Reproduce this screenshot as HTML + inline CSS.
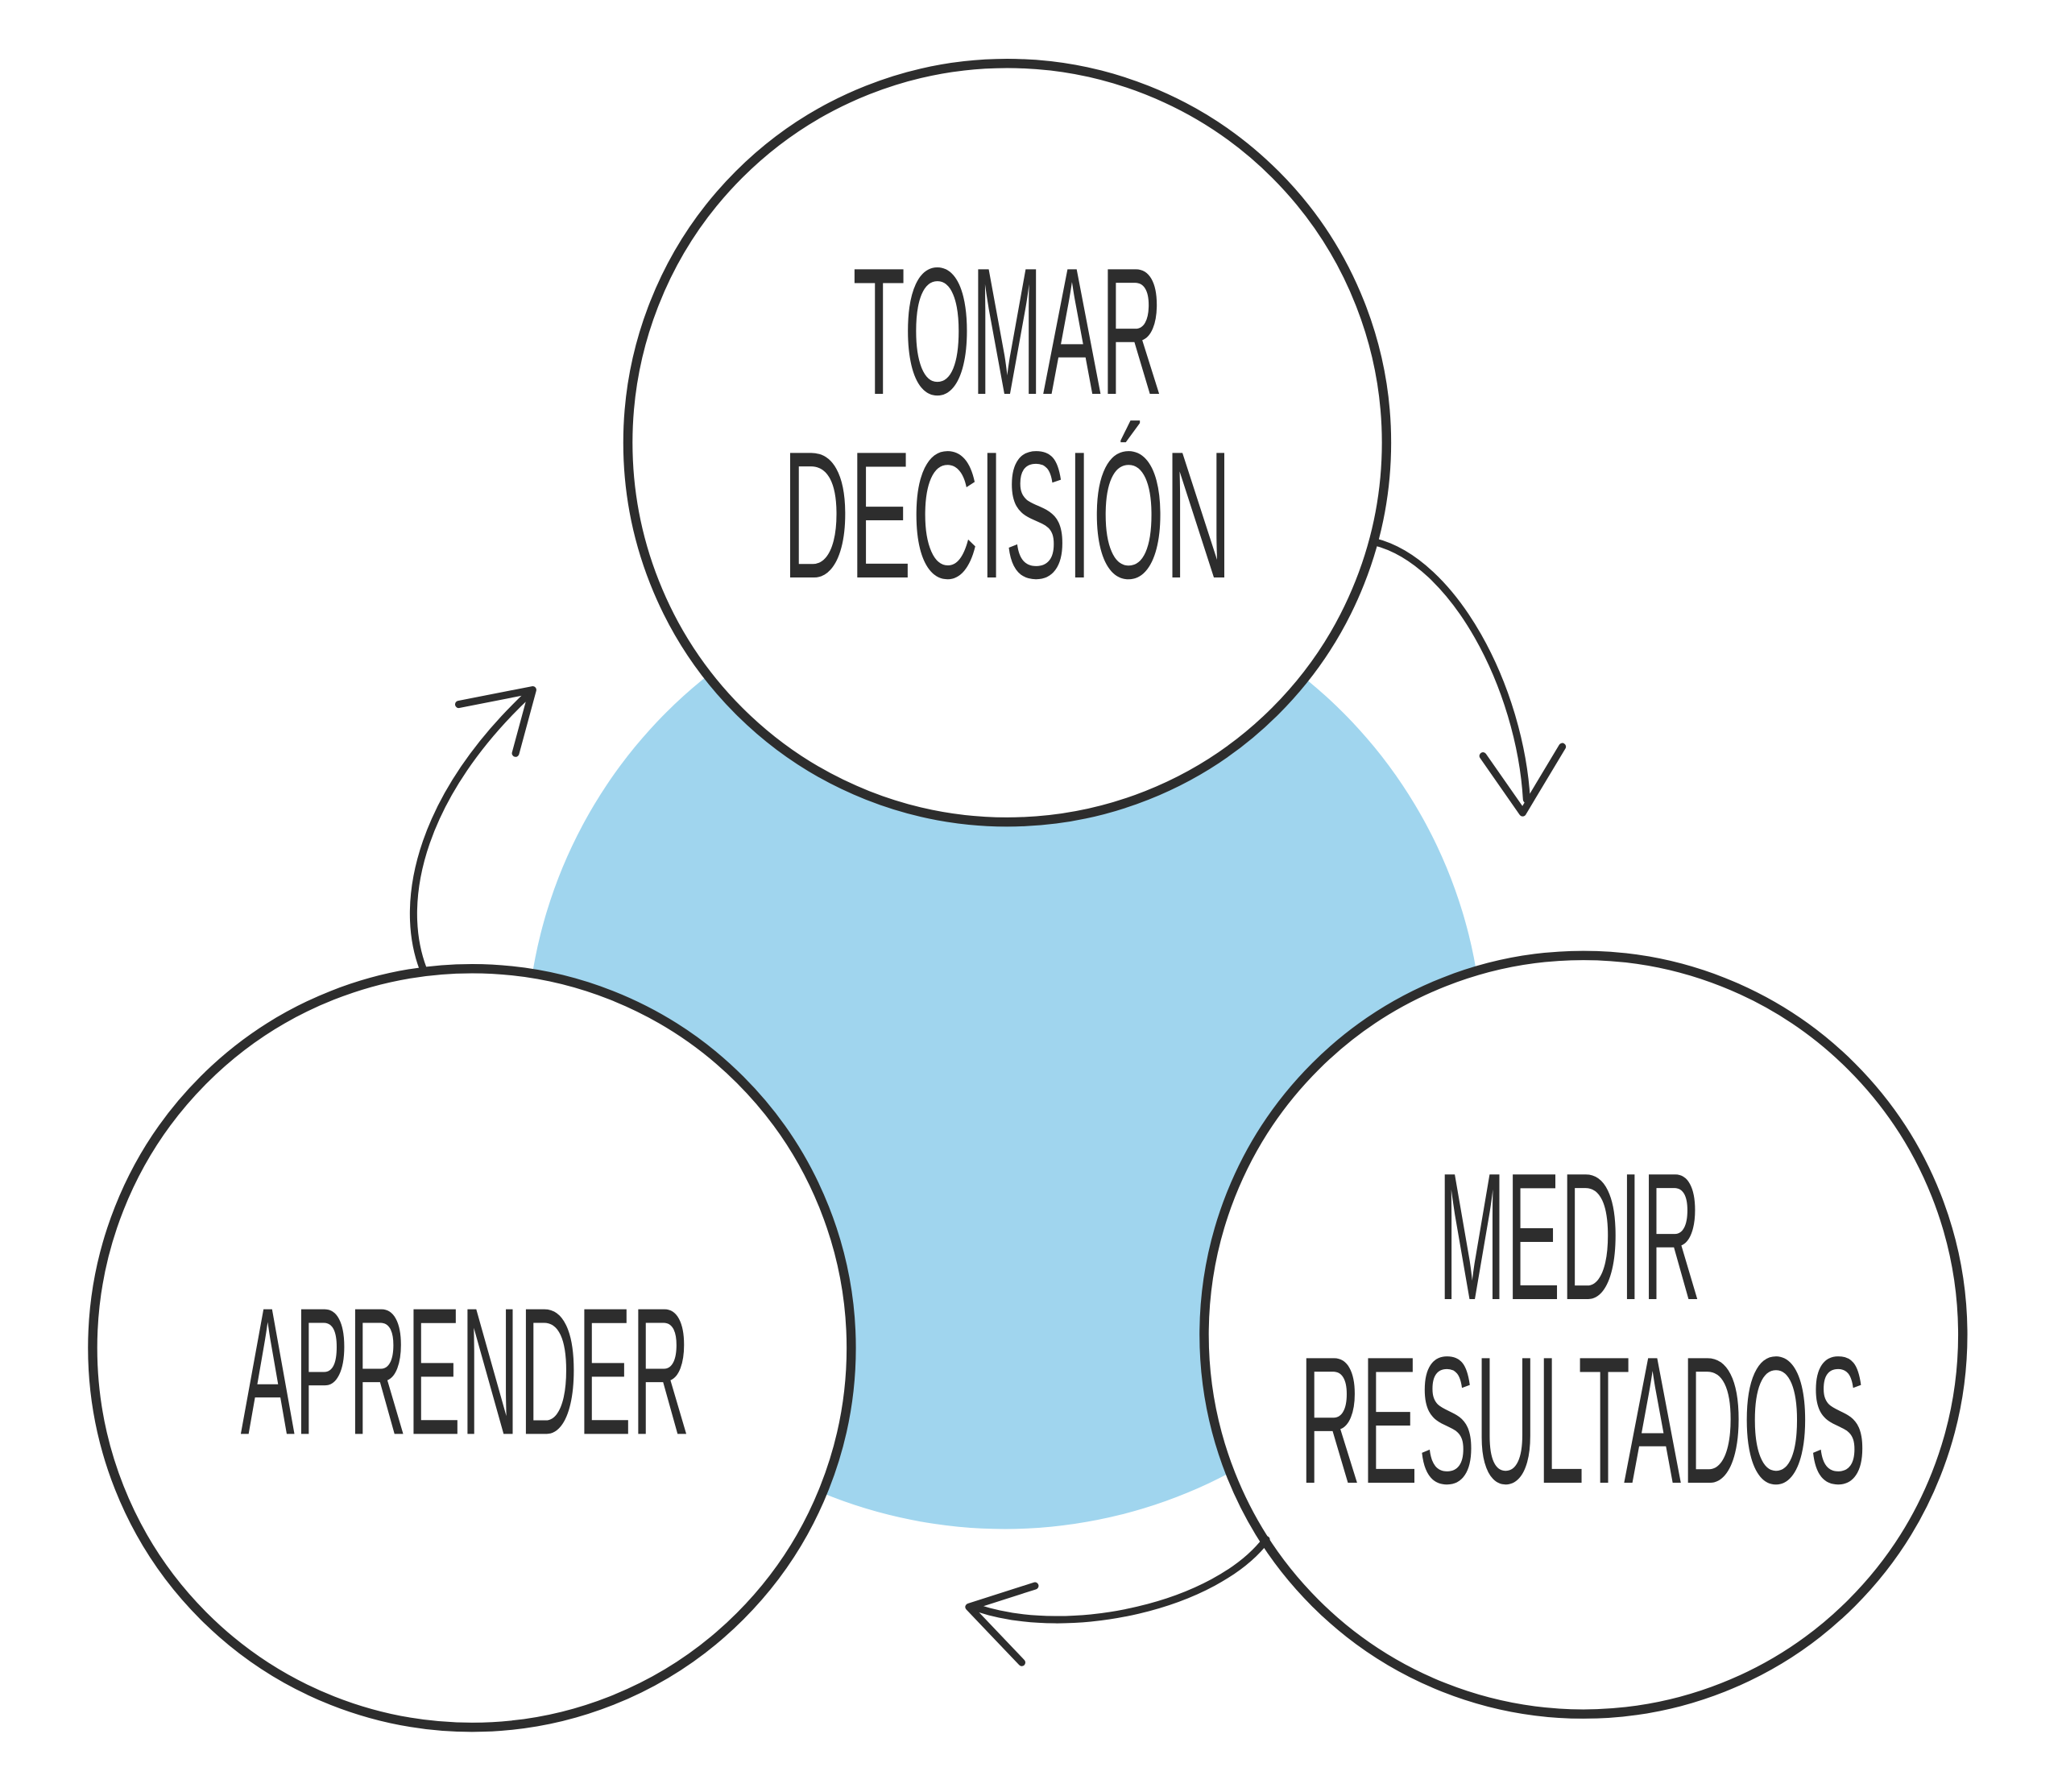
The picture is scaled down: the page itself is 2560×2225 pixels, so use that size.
<!DOCTYPE html>
<html><head><meta charset="utf-8"><style>html,body{margin:0;padding:0;background:#fff}svg{display:block}</style></head>
<body>
<svg width="2560" height="2225" viewBox="0 0 1560 1356" xmlns="http://www.w3.org/2000/svg">
<rect width="1560" height="1356" fill="#fff"/>
<circle cx="760" cy="795" r="362" fill="#a0d5ee"/>
<g fill="#fff" stroke="#2d2d2d" stroke-width="7">
<circle cx="762" cy="335" r="287"/>
<circle cx="357" cy="1020" r="287"/>
<circle cx="1198" cy="1010" r="287"/>
</g>
<g fill="none" stroke="#2d2d2d" stroke-width="5.5" stroke-linecap="round" stroke-linejoin="round">
<path d="M1040 410 C1100 425 1150 520 1155 605"/>
<path d="M1122 572 L1152 615 L1182 565"/>
<path d="M958 1165 C920 1215 810 1240 740 1217"/>
<path d="M783 1200 L733 1216 L773 1258"/>
<path d="M320 733 C300 680 320 600 400 525"/>
<path d="M347 533 L403 522 L390 570"/>
</g>
<g font-family="'Liberation Sans Narrow','Liberation Sans',sans-serif" font-size="137" fill="#2d2d2d">
<text x="645" y="298" textLength="235" lengthAdjust="spacingAndGlyphs">TOMAR</text>
<text x="592" y="437" textLength="340" lengthAdjust="spacingAndGlyphs">DECISIÓN</text>
<text x="182" y="1085" textLength="340" lengthAdjust="spacingAndGlyphs">APRENDER</text>
<text x="1088" y="983" textLength="199" lengthAdjust="spacingAndGlyphs">MEDIR</text>
<text x="983" y="1122" textLength="429" lengthAdjust="spacingAndGlyphs">RESULTADOS</text>
</g>
</svg>
</body></html>
